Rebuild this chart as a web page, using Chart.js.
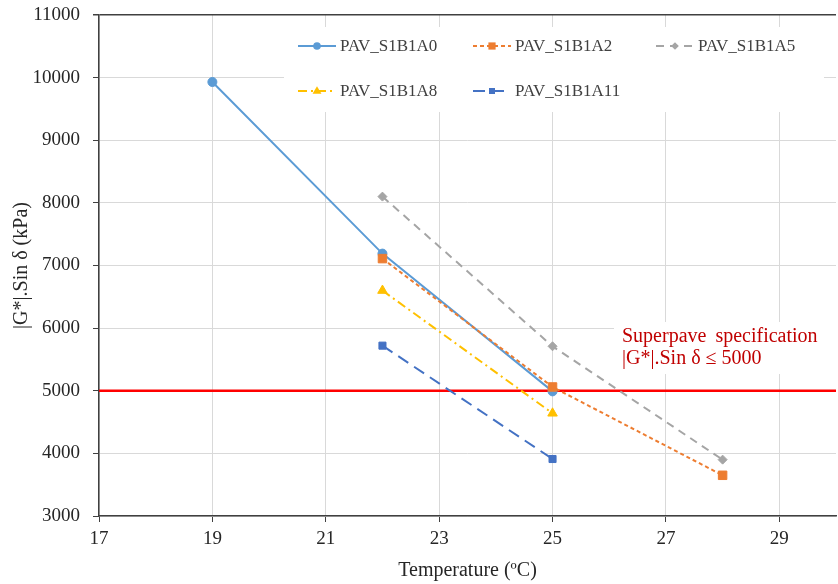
<!DOCTYPE html>
<html><head><meta charset="utf-8">
<script src="https://cdn.jsdelivr.net/npm/chart.js@4.4.0/dist/chart.umd.min.js"></script>
<style>html,body{margin:0;padding:0;background:#fff;overflow:hidden}#wrap{width:843px;height:584px}</style>
</head><body><div id="wrap"><canvas id="c" width="843" height="584"></canvas></div>
<script>
// ---- data ----
const seriesNames = ['PAV_S1B1A0','PAV_S1B1A2','PAV_S1B1A5','PAV_S1B1A8','PAV_S1B1A11'];
const tempA0  = [19, 22, 25];
const valA0   = [9930, 7190, 4990];
const tempA2  = [22, 25, 28];
const valA2   = [7110, 5060, 3650];
const tempA5  = [22, 25, 28];
const valA5   = [8100, 5710, 3900];
const tempA8  = [22, 25];
const valA8   = [6600, 4640];
const tempA11 = [22, 25];
const valA11  = [5720, 3910];
const specLimit = 5000;
const specTemps = [17, 30];
const xTickValues = [17, 19, 21, 23, 25, 27, 29];
const yTickValues = [3000, 4000, 5000, 6000, 7000, 8000, 9000, 10000, 11000];
const specText = ['Superpave specification', '|G*|.Sin \u03b4 \u2264 5000'];

const SERIF = '"Liberation Serif", "Times New Roman", serif';
const pts = (xs, ys) => xs.map((x, i) => ({x, y: ys[i]}));

const styles = [
  {color:'#5B9BD5', dash:[],          point:'circle',   r:4.5},
  {color:'#ED7D31', dash:[4,3],       point:'rect',     r:6},
  {color:'#A5A5A5', dash:[8,6],       point:'rectRot',  r:4.5},
  {color:'#FFC000', dash:[9,4,2,4],   point:'triangle', r:5.5},
  {color:'#4472C4', dash:[12,7],      point:'rect',     r:5}
];
const seriesData = [pts(tempA0,valA0), pts(tempA2,valA2), pts(tempA5,valA5), pts(tempA8,valA8), pts(tempA11,valA11)];

const datasets = seriesData.map((d, i) => ({
  label: seriesNames[i],
  data: d,
  order: 10 - i,
  borderColor: styles[i].color,
  backgroundColor: styles[i].color,
  borderDash: styles[i].dash,
  borderWidth: 2,
  pointStyle: styles[i].point,
  pointRadius: styles[i].r,
  pointBorderWidth: 1,
  pointBackgroundColor: styles[i].color,
  pointBorderColor: styles[i].color,
  tension: 0
}));
datasets.push({
  label: 'spec',
  data: specTemps.map(t => ({x: t, y: specLimit})),
  order: 20,
  borderColor: '#FF0000',
  borderWidth: 2.5,
  pointRadius: 0,
  tension: 0
});

function drawMarker(ctx, style, x, y, r, color) {
  ctx.save();
  ctx.fillStyle = color; ctx.strokeStyle = color; ctx.setLineDash([]);
  ctx.beginPath();
  if (style === 'circle') ctx.arc(x, y, r, 0, Math.PI*2);
  else if (style === 'rect') { const s = Math.SQRT1_2*r; ctx.rect(x-s, y-s, 2*s, 2*s); }
  else if (style === 'rectRot') { ctx.moveTo(x, y-r); ctx.lineTo(x+r, y); ctx.lineTo(x, y+r); ctx.lineTo(x-r, y); ctx.closePath(); }
  else if (style === 'triangle') { ctx.moveTo(x, y-r); ctx.lineTo(x+r*0.95, y+r*0.6); ctx.lineTo(x-r*0.95, y+r*0.6); ctx.closePath(); }
  ctx.fill();
  ctx.restore();
}

const overlayPlugin = {
  id: 'overlay',
  beforeDatasetsDraw(chart) {
    const ctx = chart.ctx;
    ctx.save();
    ctx.fillStyle = '#ffffff';
    ctx.fillRect(284, 27, 540, 85);   // legend box
    ctx.fillRect(614, 322, 222, 52);  // annotation box
    ctx.restore();
  },
  afterDatasetsDraw(chart) {
    const ctx = chart.ctx;
    const cols = [298, 473, 656];
    const rows = [46, 91];
    ctx.save();
    seriesNames.forEach((name, i) => {
      const x0 = cols[i % 3], y = rows[Math.floor(i / 3)];
      const st = styles[i];
      ctx.beginPath();
      ctx.setLineDash(st.dash);
      ctx.strokeStyle = st.color;
      ctx.lineWidth = 2;
      ctx.moveTo(x0, y); ctx.lineTo(x0 + 38, y);
      ctx.stroke();
      drawMarker(ctx, st.point, x0 + 19, y, st.r * 0.85, st.color);
      ctx.setLineDash([]);
      ctx.fillStyle = '#404040';
      ctx.font = '17px ' + SERIF;
      ctx.textBaseline = 'middle';
      ctx.textAlign = 'left';
      ctx.fillText(name, x0 + 42, y + 1);
    });
    ctx.fillStyle = '#C00000';
    ctx.font = '20px ' + SERIF;
    ctx.textBaseline = 'middle';
    if ('wordSpacing' in ctx) ctx.wordSpacing = '4px';
    ctx.fillText(specText[0], 622, 337);
    if ('wordSpacing' in ctx) ctx.wordSpacing = '0px';
    ctx.fillText(specText[1], 622, 359);
    ctx.restore();
  }
};

new Chart(document.getElementById('c'), {
  type: 'line',
  data: { datasets },
  plugins: [overlayPlugin],
  options: {
    responsive: false,
    animation: false,
    layout: { padding: { top: 15, right: 1, left: 0, bottom: 0 } },
    plugins: { legend: { display: false }, tooltip: { enabled: false } },
    scales: {
      x: {
        type: 'linear', min: 17, max: 30,
        afterBuildTicks: s => { s.ticks = xTickValues.map(v => ({value: v})); },
        afterFit: s => { s.height = 68; s.paddingLeft = 0; s.paddingRight = 0; },
        grid: { color: '#D9D9D9', lineWidth: 1, tickLength: 6, tickColor: '#404040' },
        border: { color: '#404040', width: 1.5 },
        ticks: { color: '#262626', font: { family: SERIF, size: 19 }, padding: 6, maxRotation: 0, autoSkip: false },
        title: { display: true, text: 'Temperature (\u00baC)', color: '#262626', font: { family: SERIF, size: 20 }, padding: { top: 0, bottom: 1 } }
      },
      y: {
        type: 'linear', min: 3000, max: 11000,
        afterBuildTicks: s => { s.ticks = yTickValues.map(v => ({value: v})); },
        afterFit: s => { s.width = 99; s.paddingTop = 0; s.paddingBottom = 0; },
        grid: { color: c => c.tick && c.tick.value === 11000 ? '#404040' : '#D9D9D9', lineWidth: c => c.tick && c.tick.value === 11000 ? 1.5 : 1, tickLength: 6, tickColor: '#404040' },
        border: { color: '#404040', width: 1.5 },
        ticks: { color: '#262626', font: { family: SERIF, size: 19 }, padding: 13, callback: v => String(v) },
        title: { display: true, text: '|G*|.Sin \u03b4 (kPa)', color: '#262626', font: { family: SERIF, size: 20 }, padding: { top: 10, bottom: 0 } }
      }
    }
  }
});
</script></body></html>
